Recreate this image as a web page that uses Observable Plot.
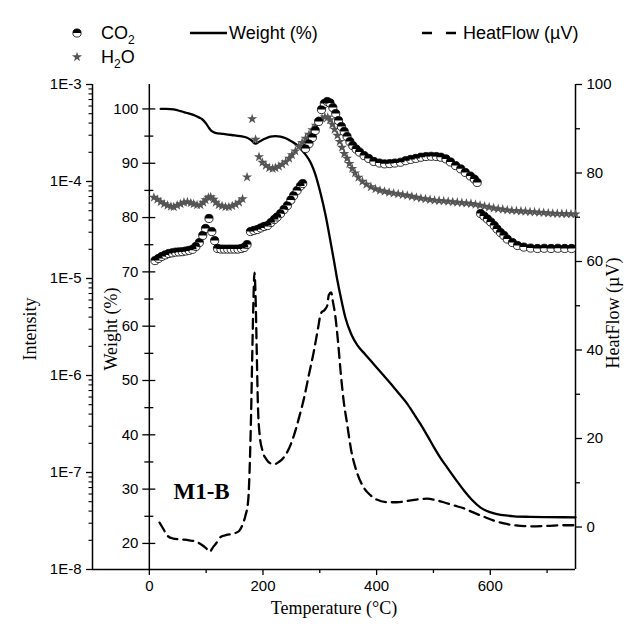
<!DOCTYPE html>
<html><head><meta charset="utf-8">
<script src="https://cdn.jsdelivr.net/npm/d3@7"></script>
<script src="https://cdn.jsdelivr.net/npm/@observablehq/plot@0.6"></script>
<style>
body{margin:0;background:#fff;}
#wrap{position:relative;width:641px;height:626px;overflow:hidden;font-family:"Liberation Sans",Arial,sans-serif;}
.leg{position:absolute;font-size:18px;color:#000;line-height:1;white-space:nowrap;transform:translateY(-50%);}
.leg sub{font-size:12px;vertical-align:-5px;line-height:0;}
.legsvg{position:absolute;overflow:visible;}
</style></head>
<body><div id="wrap"></div>
<script>
// ---------- data ----------
const co2Temp = [10,16,22,28,34,40,46,52,58,64,70,76,82,88,94,99,105,110,115,120,126,132,138,144,150,156,162,167,172,178,184,190,196,202,208,214,220,225,231,237,243,249,254,260,266,270,275,281,287,292,298,303,308,313,318,323,328,333,338,343,348,353,358,364,370,378,386,395,405,414,423,432,442,451,460,469,478,487,496,505,513,522,530,539,548,556,565,572,577,583,589,595,601,607,612,618,624,630,639,648,659,671,683,695,707,719,731,743];
const co2Intensity = [1.53e-5,1.61e-5,1.69e-5,1.75e-5,1.81e-5,1.84e-5,1.87e-5,1.88e-5,1.89e-5,1.92e-5,1.95e-5,2.00e-5,2.14e-5,2.35e-5,2.78e-5,3.28e-5,4.16e-5,3.05e-5,2.46e-5,2.04e-5,2.01e-5,2.01e-5,2.01e-5,2.01e-5,2.01e-5,2.01e-5,2.04e-5,2.09e-5,2.24e-5,3.05e-5,3.13e-5,3.20e-5,3.32e-5,3.44e-5,3.52e-5,3.78e-5,4.06e-5,4.31e-5,4.68e-5,5.15e-5,5.66e-5,6.45e-5,7.17e-5,8.08e-5,8.99e-5,9.54e-5,2.19e-4,2.46e-4,2.84e-4,3.36e-4,4.16e-4,5.52e-4,6.37e-4,6.68e-4,6.45e-4,5.79e-4,5.02e-4,4.25e-4,3.69e-4,3.28e-4,2.91e-4,2.58e-4,2.35e-4,2.16e-4,2.01e-4,1.85e-4,1.73e-4,1.61e-4,1.55e-4,1.52e-4,1.53e-4,1.55e-4,1.58e-4,1.64e-4,1.69e-4,1.73e-4,1.78e-4,1.81e-4,1.82e-4,1.81e-4,1.78e-4,1.71e-4,1.59e-4,1.46e-4,1.35e-4,1.24e-4,1.14e-4,1.06e-4,9.77e-5,4.68e-5,4.41e-5,4.11e-5,3.82e-5,3.52e-5,3.24e-5,2.98e-5,2.78e-5,2.55e-5,2.35e-5,2.19e-5,2.11e-5,2.06e-5,2.04e-5,2.05e-5,2.04e-5,2.05e-5,2.04e-5,2.04e-5];

const h2oTemp = [8,14,20,26,32,38,43,49,55,61,67,73,78,84,90,95,99,104,108,113,117,122,128,134,140,146,152,158,164,172,181,187,193,199,205,211,217,222,228,234,240,246,251,257,263,269,275,281,287,293,298,304,309,314,318,322,326,331,335,339,343,348,352,357,362,368,375,382,390,398,406,414,422,430,438,446,454,462,470,478,486,494,502,510,518,526,534,542,550,558,566,574,582,590,598,606,614,622,630,638,646,654,662,670,678,686,694,702,710,718,726,734,742,750];
const h2oIntensity = [6.84e-5,6.52e-5,6.15e-5,5.86e-5,5.66e-5,5.52e-5,5.46e-5,5.66e-5,5.86e-5,6.08e-5,6.15e-5,6.00e-5,5.86e-5,5.72e-5,5.72e-5,6.08e-5,6.45e-5,6.84e-5,6.92e-5,6.52e-5,6.08e-5,5.72e-5,5.59e-5,5.46e-5,5.46e-5,5.59e-5,5.79e-5,6.08e-5,6.60e-5,1.11e-4,4.41e-4,2.71e-4,1.79e-4,1.57e-4,1.46e-4,1.38e-4,1.36e-4,1.38e-4,1.43e-4,1.50e-4,1.59e-4,1.73e-4,1.88e-4,2.06e-4,2.30e-4,2.52e-4,2.78e-4,3.05e-4,3.40e-4,3.78e-4,4.16e-4,4.46e-4,4.62e-4,4.57e-4,4.31e-4,3.87e-4,3.44e-4,2.98e-4,2.58e-4,2.24e-4,1.94e-4,1.73e-4,1.53e-4,1.36e-4,1.22e-4,1.10e-4,1.00e-4,9.31e-5,8.78e-5,8.37e-5,8.08e-5,7.89e-5,7.70e-5,7.56e-5,7.43e-5,7.29e-5,7.17e-5,7.00e-5,6.84e-5,6.71e-5,6.60e-5,6.49e-5,6.40e-5,6.34e-5,6.29e-5,6.22e-5,6.15e-5,6.08e-5,6.03e-5,5.97e-5,5.90e-5,5.79e-5,5.68e-5,5.55e-5,5.43e-5,5.32e-5,5.23e-5,5.15e-5,5.08e-5,5.02e-5,4.99e-5,4.95e-5,4.91e-5,4.87e-5,4.84e-5,4.79e-5,4.76e-5,4.72e-5,4.68e-5,4.66e-5,4.65e-5,4.64e-5,4.62e-5,4.62e-5];

const weightTemp = [20,30,43,55,65,72,80,88,93,100,105,110,116,130,145,160,172,180,187,194,203,213,222,231,240,249,258,266,275,284,292,301,310,319,325,331,338,345,355,366,380,395,410,425,440,454,466,477,490,501,512,524,539,554,568,583,598,612,627,642,670,700,750];
const weightPct = [100,100,99.9,99.6,99.3,99.1,98.8,98.4,98.1,97.3,96.5,95.9,95.6,95.4,95.2,95.0,94.7,94.2,93.6,94.0,94.5,94.9,95.0,94.9,94.6,94.1,93.5,92.7,91.6,90.1,88.0,84.6,80.5,75.5,72.0,68.4,64.8,61.6,58.6,56.5,54.8,53.0,51.2,49.4,47.5,45.7,43.8,42.0,39.7,37.7,35.8,34.0,31.8,29.7,28.0,26.6,25.8,25.4,25.15,25.0,24.9,24.85,24.8];

const heatTemp = [18,25,32,42,55,70,82,92,100,106,112,118,126,136,148,158,164,169,174,177,179,181,183,185,187,189,191,194,199,206,213,220,228,237,246,254,263,272,281,290,297,302,308,313,316,320,323,327,332,337,342,348,355,366,378,389,400,419,435,454,470,489,503,518,535,554,570,589,605,624,645,671,700,730,750];
const heatFlow = [1.0,-0.5,-2.0,-2.6,-2.8,-3.0,-3.3,-4.0,-4.8,-5.6,-4.6,-3.6,-2.2,-1.8,-1.5,-0.9,0.5,2.5,6,15,25,38,50,57.5,52,40,28,21,17.3,15.3,14.4,14.2,14.7,15.8,17.8,20.5,24.5,29,34.5,40,45,48.3,49,50,52.5,53,51,48,42,34.6,28.5,23.4,17.5,12.1,8.8,7.2,6.2,5.6,5.6,5.9,6.2,6.4,6.1,5.6,4.9,4.2,3.3,2.3,1.5,0.8,0.35,0.16,0.25,0.4,0.4];

const xTicks = [0,200,400,600];
const xMinorTicks = [100,300,500,700];
const intensityTicks = [1e-8,1e-7,1e-6,1e-5,1e-4,1e-3];
const weightTicks = [20,30,40,50,60,70,80,90,100];
const weightMinorTicks = [25,35,45,55,65,75,85,95];
const heatTicks = [0,20,40,60,80,100];
const heatMinorTicks = [10,30,50,70,90];

const co2Label = "CO<sub>2</sub>";
const h2oLabel = "H<sub>2</sub>O";
const weightLabel = "Weight (%)";
const heatLabel = "HeatFlow (µV)";

// ---------- layout ----------
const W = 641, H = 626;
const M = {top: 84, right: 66, bottom: 57, left: 92};
const xDomain = [-100, 750];
const innerW = W - M.left - M.right;
const zeroPx = M.left + (0 - xDomain[0]) / (xDomain[1] - xDomain[0]) * innerW;
const serif = "'Liberation Serif','Times New Roman',serif";
const sans = "'Liberation Sans',Arial,sans-serif";
const baseStyle = `position:absolute;left:0;top:0;background:transparent;overflow:visible;font-family:${sans};font-size:15px;color:#000;`;
const blank = () => "";

const co2 = co2Temp.map((t, i) => ({t, v: co2Intensity[i]}));
const h2o = h2oTemp.map((t, i) => ({t, v: h2oIntensity[i]}));
const weight = weightTemp.map((t, i) => ({t, v: weightPct[i]}));
const heat = heatTemp.map((t, i) => ({t, v: heatFlow[i]}));

const intensityMinor = [];
for (const d of intensityTicks.slice(0, -1)) for (let k = 2; k <= 9; k++) intensityMinor.push(d * k);

const halfTop = {draw(ctx, size) {
  const r = Math.sqrt(size / Math.PI);
  ctx.moveTo(r, 0); ctx.arc(0, 0, r, 0, Math.PI, true); ctx.closePath();
}};

const common = {width: W, height: H, marginTop: M.top, marginRight: M.right, marginBottom: M.bottom, style: baseStyle};
const titleStyle = {fontSize: 18, fontFamily: serif, textAnchor: "middle"};

const pHeat = Plot.plot({
  ...common, marginLeft: M.left,
  x: {domain: xDomain, axis: null},
  y: {domain: [-9.6, 100]},
  marks: [
    Plot.ruleX([xDomain[1]], {strokeWidth: 1.5}),
    Plot.axisY(heatTicks, {anchor: "right", tickSize: 6, tickPadding: 5, fontSize: 15, label: null, strokeWidth: 1.3}),
    Plot.axisY(heatMinorTicks, {anchor: "right", tickSize: 4, label: null, tickFormat: blank, strokeWidth: 1.3}),
    Plot.line(heat, {x: "t", y: "v", curve: "monotone-x", stroke: "black", strokeWidth: 2.3, strokeDasharray: "10,6"}),
    Plot.text([heatLabel], {frameAnchor: "right", rotate: -90, dx: 38, dy: -14, ...titleStyle})
  ]
});

const pWeight = Plot.plot({
  ...common, marginLeft: zeroPx,
  x: {domain: [0, xDomain[1]], axis: null},
  y: {domain: [15.2, 104.5]},
  marks: [
    Plot.ruleX([0], {strokeWidth: 1.5}),
    Plot.axisY(weightTicks, {anchor: "left", tickSize: 13, dx: 6.5, label: null, tickFormat: blank, strokeWidth: 1.3}),
    Plot.axisY(weightMinorTicks, {anchor: "left", tickSize: 9, dx: 4.5, label: null, tickFormat: blank, strokeWidth: 1.3}),
    Plot.axisY(weightTicks, {anchor: "left", tickSize: 0, tickPadding: 11, fontSize: 15, label: null}),
    Plot.line(weight, {x: "t", y: "v", curve: "monotone-x", stroke: "black", strokeWidth: 2.3}),
    Plot.text(["M1-B"], {x: 92, y: 29.5, fontSize: 23, fontWeight: "bold", fontFamily: serif}),
    Plot.text([weightLabel], {frameAnchor: "left", rotate: -90, dx: -38, dy: 2, ...titleStyle})
  ]
});

const pInt = Plot.plot({
  ...common, marginLeft: M.left,
  x: {domain: xDomain},
  y: {type: "log", domain: [1e-8, 1e-3]},
  marks: [
    Plot.ruleX([xDomain[0]], {strokeWidth: 1.5}),
    Plot.ruleY([1e-8], {strokeWidth: 1.5}),
    Plot.axisY(intensityTicks, {anchor: "left", tickSize: 6, tickPadding: 5, fontSize: 15, label: null, strokeWidth: 1.3, tickFormat: d => "1E" + Math.round(Math.log10(d))}),
    Plot.axisY(intensityMinor, {anchor: "left", tickSize: 3.5, label: null, tickFormat: blank, strokeWidth: 1.1}),
    Plot.axisX(xTicks, {anchor: "bottom", tickSize: 6, tickPadding: 5, fontSize: 15, label: null, strokeWidth: 1.3, tickFormat: d => String(d)}),
    Plot.axisX(xMinorTicks, {anchor: "bottom", tickSize: 4, label: null, tickFormat: blank, strokeWidth: 1.3}),
    Plot.text(["Intensity"], {frameAnchor: "left", rotate: -90, dx: -62, dy: 2, ...titleStyle}),
    Plot.text(["Temperature (°C)"], {frameAnchor: "bottom", dy: 44, ...titleStyle}),
    Plot.dot(h2o, {x: "t", y: "v", symbol: "star", r: 3.2, fill: "#555"}),
    Plot.dot(co2, {x: "t", y: "v", r: 4.1, fill: "white", stroke: "black", strokeWidth: 0.8}),
    Plot.dot(co2, {x: "t", y: "v", r: 4.1, symbol: halfTop, fill: "black"})
  ]
});

const wrap = document.getElementById("wrap");
wrap.append(pHeat, pWeight, pInt);

// ---------- legend ----------
const starPath = d3.symbol(d3.symbolStar, Math.PI * 3.2 * 3.2)();
const row1 = 33, row2 = 57;
wrap.insertAdjacentHTML("beforeend", `
<svg class="legsvg" style="left:0;top:0" width="641" height="80">
  <circle cx="77" cy="${row1}" r="4.1" fill="white" stroke="black" stroke-width="0.8"/>
  <path d="M${77+4.1},${row1}A4.1,4.1 0 0 0 ${77-4.1},${row1}Z" fill="black"/>
  <path d="${starPath}" transform="translate(77,${row2})" fill="#555"/>
  <line x1="190" x2="227" y1="${row1}" y2="${row1}" stroke="black" stroke-width="2.3"/>
  <line x1="422" x2="456" y1="${row1}" y2="${row1}" stroke="black" stroke-width="2.3" stroke-dasharray="10,14"/>
</svg>
<div class="leg" style="left:101px;top:${row1}px">${co2Label}</div>
<div class="leg" style="left:101px;top:${row2}px">${h2oLabel}</div>
<div class="leg" style="left:229px;top:${row1}px">${weightLabel}</div>
<div class="leg" style="left:463px;top:${row1}px">${heatLabel}</div>
`);
</script></body></html>
